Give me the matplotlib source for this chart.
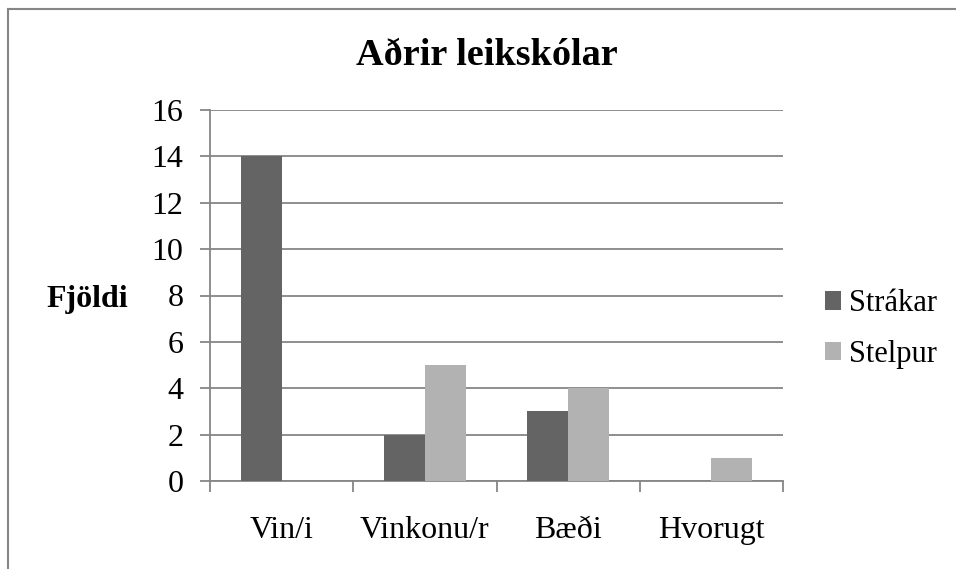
import matplotlib.pyplot as plt
import numpy as np
from matplotlib.lines import Line2D
from matplotlib.transforms import blended_transform_factory

# Data
categories = ['Vin/i', 'Vinkonu/r', 'Bæði', 'Hvorugt']
strakar = [14, 2, 3, 0]
stelpur = [0, 5, 4, 1]
y_ticks = [0, 2, 4, 6, 8, 10, 12, 14, 16]

plt.rcParams['font.family'] = ['Liberation Serif', 'DejaVu Serif']

fig = plt.figure(figsize=(9.56, 5.69), dpi=100)
ax = fig.add_axes([210/956, 1-481/569, (783-210)/956, (481-110)/569])

x = np.arange(len(categories))
w = 0.286
ax.bar(x - w/2, strakar, w, color='#646464', label='Strákar', zorder=3)
ax.bar(x + w/2, stelpur, w, color='#b2b2b2', label='Stelpur', zorder=3)

ax.set_xlim(-0.5, len(categories) - 0.5)
ax.set_ylim(0, 16)
ax.set_yticks(y_ticks)
ax.set_yticklabels([str(t) for t in y_ticks], fontsize=23)
ax.grid(axis='y', color='#868686', lw=1.3, zorder=0)
ax.tick_params(axis='y', length=7, width=1.3, color='#868686', pad=12)

# category ticks at boundaries, labels at centres on a common baseline
ax.set_xticks(np.arange(len(categories) + 1) - 0.5)
ax.set_xticklabels([])
ax.tick_params(axis='x', which='major', length=8, width=1.3, color='#868686')
trans = blended_transform_factory(ax.transData, fig.transFigure)
for i, cat in enumerate(categories):
    ax.text(i, 1-538/569, cat, transform=trans, fontsize=23,
            ha='center', va='baseline')

for s in ['top', 'right']:
    ax.spines[s].set_visible(False)
for s in ['left', 'bottom']:
    ax.spines[s].set_color('#868686')
    ax.spines[s].set_linewidth(1.3)

fig.text(487/956, 1-65/569, 'Aðrir leikskólar', fontsize=27.5, fontweight='bold',
         ha='center', va='baseline')
fig.text(46/956, 1-307/569, 'Fjöldi', fontsize=23, fontweight='bold',
         ha='left', va='baseline')

ax.legend(loc='center left', bbox_to_anchor=(797/956, 1-329/569),
          bbox_transform=fig.transFigure, frameon=False, fontsize=22,
          handlelength=0.55, handleheight=0.55, handletextpad=0.25, labelspacing=0.7)

# outer chart border (top and left edges visible)
fig.add_artist(Line2D([8/956, 1], [1-9/569, 1-9/569], color='#868686', lw=1.5))
fig.add_artist(Line2D([8/956, 8/956], [0, 1-9/569], color='#868686', lw=1.5))

fig.savefig('out.png', dpi=100)
